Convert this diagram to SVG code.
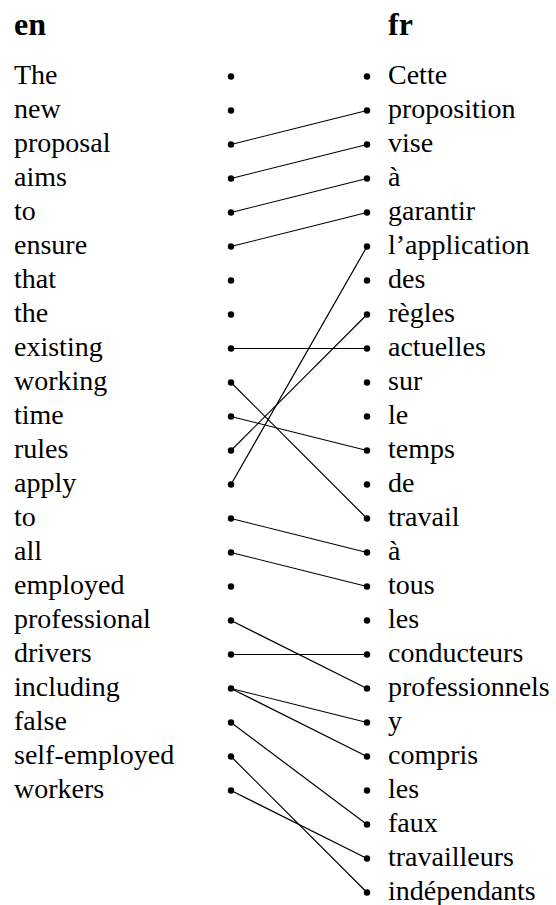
<svg xmlns="http://www.w3.org/2000/svg" width="556" height="905" viewBox="0 0 556 905">
  <style>
    text { font-family: "Liberation Serif", "Times New Roman", Times, "DejaVu Serif", serif; fill: #000; }
    .w { font-size: 28px; }
    .h { font-size: 32px; font-weight: bold; }
    .dot { fill: #000; }
    .link { stroke: #000; stroke-width: 1.2; fill: none; }
  </style>
  <rect width="556" height="905" fill="#fff"/>

  <g id="headers" font-family="Liberation Serif, Times New Roman, serif">
    <text class="h" x="14" y="35">en</text>
    <text class="h" x="388" y="35">fr</text>
  </g>

  <!-- alignment links: left dot (x=231) to right dot (x=367); rows at 76.5 + 34*i -->
  <g id="links">
    <line class="link" x1="231" y1="144.5" x2="367" y2="110.5"/>
    <line class="link" x1="231" y1="178.5" x2="367" y2="144.5"/>
    <line class="link" x1="231" y1="212.5" x2="367" y2="178.5"/>
    <line class="link" x1="231" y1="246.5" x2="367" y2="212.5"/>
    <line class="link" x1="231" y1="348.5" x2="367" y2="348.5"/>
    <line class="link" x1="231" y1="382.5" x2="367" y2="518.5"/>
    <line class="link" x1="231" y1="416.5" x2="367" y2="450.5"/>
    <line class="link" x1="231" y1="450.5" x2="367" y2="314.5"/>
    <line class="link" x1="231" y1="484.5" x2="367" y2="246.5"/>
    <line class="link" x1="231" y1="518.5" x2="367" y2="552.5"/>
    <line class="link" x1="231" y1="552.5" x2="367" y2="586.5"/>
    <line class="link" x1="231" y1="620.5" x2="367" y2="688.5"/>
    <line class="link" x1="231" y1="654.5" x2="367" y2="654.5"/>
    <line class="link" x1="231" y1="688.5" x2="367" y2="722.5"/>
    <line class="link" x1="231" y1="688.5" x2="367" y2="756.5"/>
    <line class="link" x1="231" y1="722.5" x2="367" y2="824.5"/>
    <line class="link" x1="231" y1="756.5" x2="367" y2="892.5"/>
    <line class="link" x1="231" y1="790.5" x2="367" y2="858.5"/>
  </g>

  <!-- English tokens -->
  <g id="en-0"><text class="w" x="14" y="83.5">The</text><circle class="dot" cx="231" cy="76.5" r="3.2"/></g>
  <g id="en-1"><text class="w" x="14" y="117.5">new</text><circle class="dot" cx="231" cy="110.5" r="3.2"/></g>
  <g id="en-2"><text class="w" x="14" y="151.5">proposal</text><circle class="dot" cx="231" cy="144.5" r="3.2"/></g>
  <g id="en-3"><text class="w" x="14" y="185.5">aims</text><circle class="dot" cx="231" cy="178.5" r="3.2"/></g>
  <g id="en-4"><text class="w" x="14" y="219.5">to</text><circle class="dot" cx="231" cy="212.5" r="3.2"/></g>
  <g id="en-5"><text class="w" x="14" y="253.5">ensure</text><circle class="dot" cx="231" cy="246.5" r="3.2"/></g>
  <g id="en-6"><text class="w" x="14" y="287.5">that</text><circle class="dot" cx="231" cy="280.5" r="3.2"/></g>
  <g id="en-7"><text class="w" x="14" y="321.5">the</text><circle class="dot" cx="231" cy="314.5" r="3.2"/></g>
  <g id="en-8"><text class="w" x="14" y="355.5">existing</text><circle class="dot" cx="231" cy="348.5" r="3.2"/></g>
  <g id="en-9"><text class="w" x="14" y="389.5">working</text><circle class="dot" cx="231" cy="382.5" r="3.2"/></g>
  <g id="en-10"><text class="w" x="14" y="423.5">time</text><circle class="dot" cx="231" cy="416.5" r="3.2"/></g>
  <g id="en-11"><text class="w" x="14" y="457.5">rules</text><circle class="dot" cx="231" cy="450.5" r="3.2"/></g>
  <g id="en-12"><text class="w" x="14" y="491.5">apply</text><circle class="dot" cx="231" cy="484.5" r="3.2"/></g>
  <g id="en-13"><text class="w" x="14" y="525.5">to</text><circle class="dot" cx="231" cy="518.5" r="3.2"/></g>
  <g id="en-14"><text class="w" x="14" y="559.5">all</text><circle class="dot" cx="231" cy="552.5" r="3.2"/></g>
  <g id="en-15"><text class="w" x="14" y="593.5">employed</text><circle class="dot" cx="231" cy="586.5" r="3.2"/></g>
  <g id="en-16"><text class="w" x="14" y="627.5">professional</text><circle class="dot" cx="231" cy="620.5" r="3.2"/></g>
  <g id="en-17"><text class="w" x="14" y="661.5">drivers</text><circle class="dot" cx="231" cy="654.5" r="3.2"/></g>
  <g id="en-18"><text class="w" x="14" y="695.5">including</text><circle class="dot" cx="231" cy="688.5" r="3.2"/></g>
  <g id="en-19"><text class="w" x="14" y="729.5">false</text><circle class="dot" cx="231" cy="722.5" r="3.2"/></g>
  <g id="en-20"><text class="w" x="14" y="763.5">self-employed</text><circle class="dot" cx="231" cy="756.5" r="3.2"/></g>
  <g id="en-21"><text class="w" x="14" y="797.5">workers</text><circle class="dot" cx="231" cy="790.5" r="3.2"/></g>

  <!-- French tokens -->
  <g id="fr-0"><circle class="dot" cx="367" cy="76.5" r="3.2"/><text class="w" x="388" y="83.5">Cette</text></g>
  <g id="fr-1"><circle class="dot" cx="367" cy="110.5" r="3.2"/><text class="w" x="388" y="117.5">proposition</text></g>
  <g id="fr-2"><circle class="dot" cx="367" cy="144.5" r="3.2"/><text class="w" x="388" y="151.5">vise</text></g>
  <g id="fr-3"><circle class="dot" cx="367" cy="178.5" r="3.2"/><text class="w" x="388" y="185.5">à</text></g>
  <g id="fr-4"><circle class="dot" cx="367" cy="212.5" r="3.2"/><text class="w" x="388" y="219.5">garantir</text></g>
  <g id="fr-5"><circle class="dot" cx="367" cy="246.5" r="3.2"/><text class="w" x="388" y="253.5">l’application</text></g>
  <g id="fr-6"><circle class="dot" cx="367" cy="280.5" r="3.2"/><text class="w" x="388" y="287.5">des</text></g>
  <g id="fr-7"><circle class="dot" cx="367" cy="314.5" r="3.2"/><text class="w" x="388" y="321.5">règles</text></g>
  <g id="fr-8"><circle class="dot" cx="367" cy="348.5" r="3.2"/><text class="w" x="388" y="355.5">actuelles</text></g>
  <g id="fr-9"><circle class="dot" cx="367" cy="382.5" r="3.2"/><text class="w" x="388" y="389.5">sur</text></g>
  <g id="fr-10"><circle class="dot" cx="367" cy="416.5" r="3.2"/><text class="w" x="388" y="423.5">le</text></g>
  <g id="fr-11"><circle class="dot" cx="367" cy="450.5" r="3.2"/><text class="w" x="388" y="457.5">temps</text></g>
  <g id="fr-12"><circle class="dot" cx="367" cy="484.5" r="3.2"/><text class="w" x="388" y="491.5">de</text></g>
  <g id="fr-13"><circle class="dot" cx="367" cy="518.5" r="3.2"/><text class="w" x="388" y="525.5">travail</text></g>
  <g id="fr-14"><circle class="dot" cx="367" cy="552.5" r="3.2"/><text class="w" x="388" y="559.5">à</text></g>
  <g id="fr-15"><circle class="dot" cx="367" cy="586.5" r="3.2"/><text class="w" x="388" y="593.5">tous</text></g>
  <g id="fr-16"><circle class="dot" cx="367" cy="620.5" r="3.2"/><text class="w" x="388" y="627.5">les</text></g>
  <g id="fr-17"><circle class="dot" cx="367" cy="654.5" r="3.2"/><text class="w" x="388" y="661.5">conducteurs</text></g>
  <g id="fr-18"><circle class="dot" cx="367" cy="688.5" r="3.2"/><text class="w" x="388" y="695.5">professionnels</text></g>
  <g id="fr-19"><circle class="dot" cx="367" cy="722.5" r="3.2"/><text class="w" x="388" y="729.5">y</text></g>
  <g id="fr-20"><circle class="dot" cx="367" cy="756.5" r="3.2"/><text class="w" x="388" y="763.5">compris</text></g>
  <g id="fr-21"><circle class="dot" cx="367" cy="790.5" r="3.2"/><text class="w" x="388" y="797.5">les</text></g>
  <g id="fr-22"><circle class="dot" cx="367" cy="824.5" r="3.2"/><text class="w" x="388" y="831.5">faux</text></g>
  <g id="fr-23"><circle class="dot" cx="367" cy="858.5" r="3.2"/><text class="w" x="388" y="865.5">travailleurs</text></g>
  <g id="fr-24"><circle class="dot" cx="367" cy="892.5" r="3.2"/><text class="w" x="388" y="899.5">indépendants</text></g>
</svg>
